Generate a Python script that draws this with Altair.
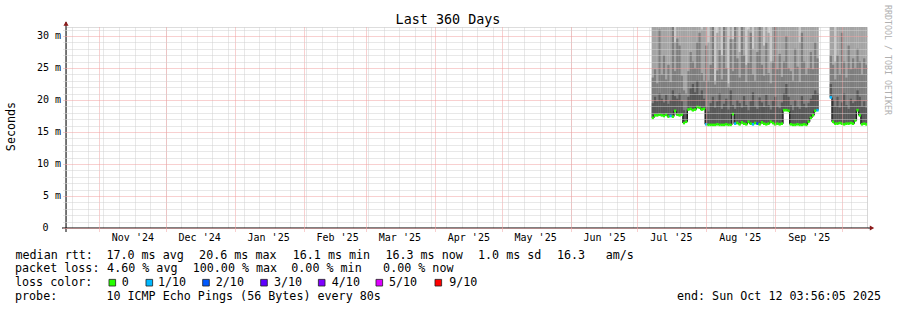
import altair as alt
import pandas as pd

MONO = "DejaVu Sans Mono"

chart_title = "Last 360 Days"
y_title = "Seconds"
watermark = "RRDTOOL / TOBI OETIKER"

# time range of the graph (360 days ending at the "end:" stamp)
range_start = dict(year=2024, month=10, date=17, hours=3, minutes=56, seconds=5)
range_end = dict(year=2025, month=10, date=12, hours=3, minutes=56, seconds=5)
first_sample = "2025-07-07 10:00:00"
sample_hours = 24

# median RTT per day (ms); None = no data
median_ms = [
    17.2, 17.6, 17.6, 17.7, 17.6, 17.5, 17.7, 17.4, 17.5, 17.4, 18.3, 17.7, 17.6, 17.7, 16.4, 16.6,
    18.5, 18.6, 18.4, 18.5, 18.9, 18.8, 18.5, 18.6,
    16.2, 16.1, 16.1, 16.1, 16.1, 16.2, 16.1, 16.1, 16.1, 16.2, 16.1, 16.1, 17.8,
    16.3, 16.4, 16.2, 16.5, 16.3, 16.2, 16.6, 16.3, 16.2, 16.4, 16.3, 16.2, 16.5, 16.3, 16.2, 16.3,
    16.6, 16.4, 16.2, 16.3, 16.2, 16.3,
    18.4, 18.4, 18.3,
    16.2, 16.1, 16.1, 16.2, 16.1, 16.1, 16.2, 16.1,
    16.6, 17.2, 17.6, 18.3, 18.4,
    None, None, None, None, None,
    20.4,
    16.6, 16.3, 16.3, 16.4, 16.3, 16.2, 16.3, 16.3, 16.4, 16.3,
    16.8, 18.4, 17.6,
    16.2, 16.3, 16.2,
]

# smoke: 7th, 8th and 9th of the 10 sorted pings (ms), values above the top are clipped
ping7_ms = [
    19.5, 20.5, 19.8, 21.0, 20.2, 19.6, 20.8, 19.4, 20.0, 21.5, 20.6, 20.2, 21.0, 19.8, 18.4, 18.0,
    20.5, 21.8, 22.5, 21.2, 23.0, 20.8, 21.5, 20.2,
    19.0, 18.2, 19.5, 20.5, 18.8, 19.8, 21.0, 18.6, 19.4, 20.2, 18.5, 21.5, 19.2,
    18.6, 20.0, 19.5, 18.8, 20.6, 19.2, 18.4, 19.8, 21.2, 19.0, 18.6, 20.4, 19.6, 18.9, 20.8,
    19.2, 18.5, 19.9, 20.5, 19.0, 18.7, 19.6,
    21.0, 22.5, 20.5,
    19.2, 18.4, 20.0, 19.0, 18.6, 20.6, 19.4, 18.8,
    19.5, 20.2, 20.8, 21.5, 21.0,
    None, None, None, None, None,
    22.5,
    20.0, 19.0, 20.5, 18.8, 19.6, 21.0, 19.2, 18.6, 20.2, 19.5,
    19.8, 21.5, 20.5,
    19.0, 19.8, 18.8,
]
ping8_ms = [
    23.5, 24.8, 22.6, 31.0, 24.0, 27.0, 23.2, 25.5, 22.8, 32.5, 24.5, 29.6, 28.5, 23.8, 21.5, 21.0,
    24.5, 27.5, 26.0, 25.0, 29.0, 30.5, 24.2, 23.0,
    28.5, 23.0, 25.5, 31.5, 22.4, 24.6, 27.8, 23.2, 33.0, 25.0, 22.0, 29.5, 24.5,
    36.0, 26.5, 23.5, 31.8, 27.0, 22.8, 25.8, 30.5, 24.0, 23.0, 27.5, 34.0, 25.5, 23.8, 29.0,
    24.2, 22.6, 26.0, 32.0, 24.8, 27.2, 23.6,
    26.0, 30.0, 25.0,
    24.5, 23.0, 28.0, 25.2, 22.8, 30.5, 26.0, 24.0,
    25.0, 27.5, 24.8, 29.0, 26.5,
    None, None, None, None, None,
    27.0,
    25.5, 23.2, 27.0, 24.0, 30.5, 26.0, 23.5, 28.5, 24.8, 26.5,
    25.0, 28.0, 26.0,
    24.0, 26.5, 25.5,
]
ping9_ms = [
    34.0, 36.0, 33.0, 40.0, 33.5, 38.0, 35.0, 33.0, 36.0, 40.0, 29.0, 38.0, 37.0, 33.0, 32.0, 31.8,
    33.0, 36.0, 35.0, 32.0, 40.0, 38.0, 31.0, 35.0,
    36.0, 29.0, 33.0, 40.0, 23.0, 30.5, 38.0, 27.0, 40.0, 35.0, 22.6, 38.0, 29.5,
    40.0, 33.0, 27.5, 40.0, 35.0, 25.5, 31.0, 40.0, 28.0, 33.0, 36.0, 40.0, 33.0, 28.5, 40.0,
    30.5, 26.0, 34.0, 40.0, 31.5, 37.0, 32.0,
    35.0, 40.0, 33.0,
    32.0, 33.5, 38.0, 34.0, 29.0, 40.0, 35.0, 33.0,
    33.0, 36.0, 31.5, 40.0, 35.0,
    None, None, None, None, None,
    36.0,
    34.0, 26.0, 33.0, 38.0, 40.0, 33.0, 33.5, 36.0, 32.0, 35.0,
    33.0, 37.0, 35.0,
    33.5, 34.0, 32.0,
]
# lost pings (of 10) per day
loss_pings = [
    0, 0, 0, 0, 0, 0, 0, 0, 1, 0,
    0, 0, 0, 0, 0, 0, 0, 0, 0, 0,
    0, 0, 0, 0, 1, 0, 0, 0, 0, 0,
    0, 0, 0, 0, 0, 0, 0, 1, 0, 0,
    0, 0, 0, 0, 0, 1, 0, 2, 0, 0,
    0, 0, 0, 0, 0, 0, 0, 0, 0, 0,
    0, 0, 0, 0, 0, 0, 0, 0, 0, 0,
    0, 0, 0, 0, 1, 10, 10, 10, 10, 10,
    1, 0, 0, 0, 0, 0, 0, 0, 0, 0,
    0, 0, 0, 0, 0, 0, 0,
]

month_label_days = [
    (2024, 11, 16), (2024, 12, 16), (2025, 1, 16), (2025, 2, 16), (2025, 3, 16), (2025, 4, 16),
    (2025, 5, 16), (2025, 6, 16), (2025, 7, 16), (2025, 8, 16), (2025, 9, 16),
]
y_grid_values = list(range(0, 32))
zero_label = "0"

loss_levels = [0, 1, 2, 3, 4, 5, 9]
loss_names = ["0", "1/10", "2/10", "3/10", "4/10", "5/10", "9/10"]
loss_colors = ["#26ff00", "#00b8ff", "#0059ff", "#5e00ff", "#7e00ff", "#dd00ff", "#ff0000"]

stats_rtt = ["median rtt:", "17.0 ms avg", "20.6 ms max", "16.1 ms min", "16.3 ms now", "1.0 ms sd", "16.3", "am/s"]
stats_loss = ["packet loss:", "4.60 % avg", "100.00 % max", "0.00 % min", "0.00 % now"]
loss_caption = "loss color:"
probe_caption = "probe:"
probe_text = "10 ICMP Echo Pings (56 Bytes) every 80s"
end_text = "end: Sun Oct 12 03:56:05 2025"

# ---------------- table ----------------
t0 = pd.Timestamp(first_sample)
t_end = pd.Timestamp(year=2025, month=10, day=12, hour=3, minute=56, second=5)
fmt = "%Y-%m-%dT%H:%M:%S"
starts = [t0 + pd.Timedelta(hours=sample_hours * i) for i in range(len(median_ms))]
ends = [min(s + pd.Timedelta(hours=sample_hours), t_end) for s in starts]
df = pd.DataFrame({
    "start": [s.strftime(fmt) for s in starts],
    "end": [e.strftime(fmt) for e in ends],
    "median": median_ms,
    "p7": ping7_ms,
    "p8": ping8_ms,
    "p9": ping9_ms,
    "loss": loss_pings,
})

# ---------------- scales & axes ----------------
xscale = alt.Scale(domain=[alt.DateTime(**range_start), alt.DateTime(**range_end)])
yscale = alt.Scale(domain=[0, 31.4], nice=False, zero=False)

GREY = "#d0d0d0"
RED = "#f0a0a0"
is_major = "abs(datum.value - 5 * round(datum.value / 5)) < 0.01"

week_axis = alt.Axis(orient="bottom", grid=True, gridColor=GREY, gridDash=[1, 1], gridOpacity=1,
                     tickCount={"interval": "week", "step": 1}, labels=False, ticks=False,
                     domain=False, title=None, zindex=0)
month_axis = alt.Axis(orient="bottom", grid=True, gridColor=RED, gridDash=[1, 1], gridOpacity=1,
                      tickCount={"interval": "month", "step": 1}, labels=False, ticks=True, tickSize=3,
                      tickColor=RED, tickDash=[1, 1], domain=False, title=None, zindex=1)
y_axis = alt.Axis(orient="left", values=y_grid_values, grid=True,
                  gridColor={"condition": {"test": is_major, "value": RED}, "value": GREY},
                  gridDash=[1, 1], gridOpacity=1,
                  ticks=True, tickSize=4,
                  tickColor={"condition": {"test": is_major, "value": RED}, "value": GREY},
                  tickDash=[1, 1],
                  labelExpr="(" + is_major + ") && datum.value > 0 ? datum.value + ' m' : ''",
                  labelFont=MONO, labelFontSize=10, labelColor="#000", labelPadding=1.5,
                  labelFlush=False, labelOverlap=False, domain=False, title=None, zindex=1)
label_x_axis = alt.Axis(orient="bottom", values=[alt.DateTime(year=y, month=m, date=d) for (y, m, d) in month_label_days],
                        format="%b '%y", formatType="time", labelFont=MONO, labelFontSize=10,
                        labelColor="#000", labelBaseline="alphabetic", labelPadding=12.7,
                        labelAlign="center", labelFlush=False, labelOverlap=False,
                        ticks=False, grid=False, domain=False, title=None)

valid = alt.Chart(df).transform_filter("isValid(datum.median)")

smoke1 = valid.mark_rect(color="#cacaca", clip=True).encode(
    x=alt.X("start:T", scale=xscale, axis=week_axis), x2="end:T",
    y=alt.Y("median:Q", scale=yscale, axis=y_axis), y2=alt.value(0))
smoke2 = valid.mark_rect(color="#a4a4a4", clip=True).encode(
    x=alt.X("start:T", scale=xscale, axis=month_axis), x2="end:T",
    y=alt.Y("median:Q", scale=yscale, axis=None), y2="p9:Q")
smoke3 = valid.mark_rect(color="#7e7e7e", clip=True).encode(
    x=alt.X("start:T", scale=xscale, axis=label_x_axis), x2="end:T",
    y=alt.Y("median:Q", scale=yscale, axis=None), y2="p8:Q")
smoke4 = valid.mark_rect(color="#585858", clip=True).encode(
    x=alt.X("start:T", scale=xscale, axis=None), x2="end:T",
    y=alt.Y("median:Q", scale=yscale, axis=None), y2="p7:Q")

steps = alt.Chart(df).transform_window(
    next_median="lead(median)", sort=[alt.SortField("start")]
).transform_filter("isValid(datum.median) && isValid(datum.next_median)").mark_rule(
    color="#1c1c1c", strokeWidth=1.3, clip=True).encode(
    x=alt.X("end:T", scale=xscale, axis=None),
    y=alt.Y("median:Q", scale=yscale, axis=None), y2="next_median:Q")

band = valid.transform_calculate(lo="datum.median - 0.21", hi="datum.median + 0.21").mark_rect(clip=True).encode(
    x=alt.X("start:T", scale=xscale, axis=None), x2="end:T",
    y=alt.Y("lo:Q", scale=yscale, axis=None), y2="hi:Q",
    color=alt.Color("loss:O", scale=alt.Scale(domain=loss_levels, range=loss_colors), legend=None))

# ---------------- decoration & text ----------------
one = alt.Data(values=[{"k": 0}])
OX, OY = 66, 27  # page position of plot origin


def txt(s, px, py, size=11.7, align="left", angle=0, color="#000", baseline="alphabetic"):
    return alt.Chart(one).mark_text(text=s, align=align, baseline=baseline, angle=angle, font=MONO,
                                    fontSize=size, color=color).encode(
        x=alt.value(px - OX), y=alt.value(py - OY))


y_line = alt.Chart(one).mark_rule(color="#000", strokeWidth=1).encode(
    x=alt.value(0), y=alt.value(-5), y2=alt.value(205))
x_line = alt.Chart(one).mark_rule(color="#000", strokeWidth=1).encode(
    y=alt.value(201), x=alt.value(-4), x2=alt.value(805))
arrow_up = alt.Chart(one).mark_point(shape="triangle-up", filled=True, size=26, color="#8b1a1a", opacity=1).encode(
    x=alt.value(0), y=alt.value(-3.5))
arrow_right = alt.Chart(one).mark_point(shape="triangle-right", filled=True, size=26, color="#8b1a1a", opacity=1).encode(
    x=alt.value(806), y=alt.value(201))

texts = [
    txt(chart_title, 448, 24, size=13.4, align="center"),
    txt(y_title, 14.5, 126.5, size=11.7, align="center", angle=270),
    txt(watermark, 884.5, 5, size=8.3, angle=90, color="#b0b0b0"),
    txt(zero_label, 48.5, 228, size=10, align="right", baseline="middle"),
]

row1_x = [15.5, 106.4, 199.1, 292.7, 385.4, 478.0, 557.0, 605.7]
for s, px in zip(stats_rtt, row1_x):
    texts.append(txt(s, px, 258.5))
row2_x = [15.0, 107.1, 192.7, 291.3, 383.1]
for s, px in zip(stats_loss, row2_x):
    texts.append(txt(s, px, 272.3))
texts.append(txt(loss_caption, 15.0, 286.0))
box_cx = [112.3, 149.3, 206.0, 264.0, 321.7, 379.3, 438.3]
name_x = [121.8, 158.0, 215.8, 274.0, 331.8, 389.0, 449.2]
boxes = []
for name, col, bx, nx in zip(loss_names, loss_colors, box_cx, name_x):
    boxes.append(alt.Chart(one).mark_square(size=44, filled=True, color=col, stroke="#202020",
                                            strokeWidth=0.8, opacity=1).encode(
        x=alt.value(bx - OX), y=alt.value(282.7 - OY)))
    texts.append(txt(name, nx, 286.0))
texts.append(txt(probe_caption, 15.0, 299.8))
texts.append(txt(probe_text, 106.4, 299.8))
texts.append(txt(end_text, 881, 299.8, align="right"))

chart = alt.layer(
    smoke1, smoke2, smoke3, smoke4, steps, band, y_line, x_line, arrow_up, arrow_right, *boxes, *texts
).resolve_axis(x="independent", y="independent").properties(
    width=801, height=201,
    autosize=alt.AutoSizeParams(type="none"),
    padding={"left": OX, "top": OY, "right": 897 - OX - 801, "bottom": 310 - OY - 201},
).configure_view(strokeWidth=0).configure(background="#ffffff")

chart.save("out.html", embed_options={"renderer": "svg", "actions": False})
